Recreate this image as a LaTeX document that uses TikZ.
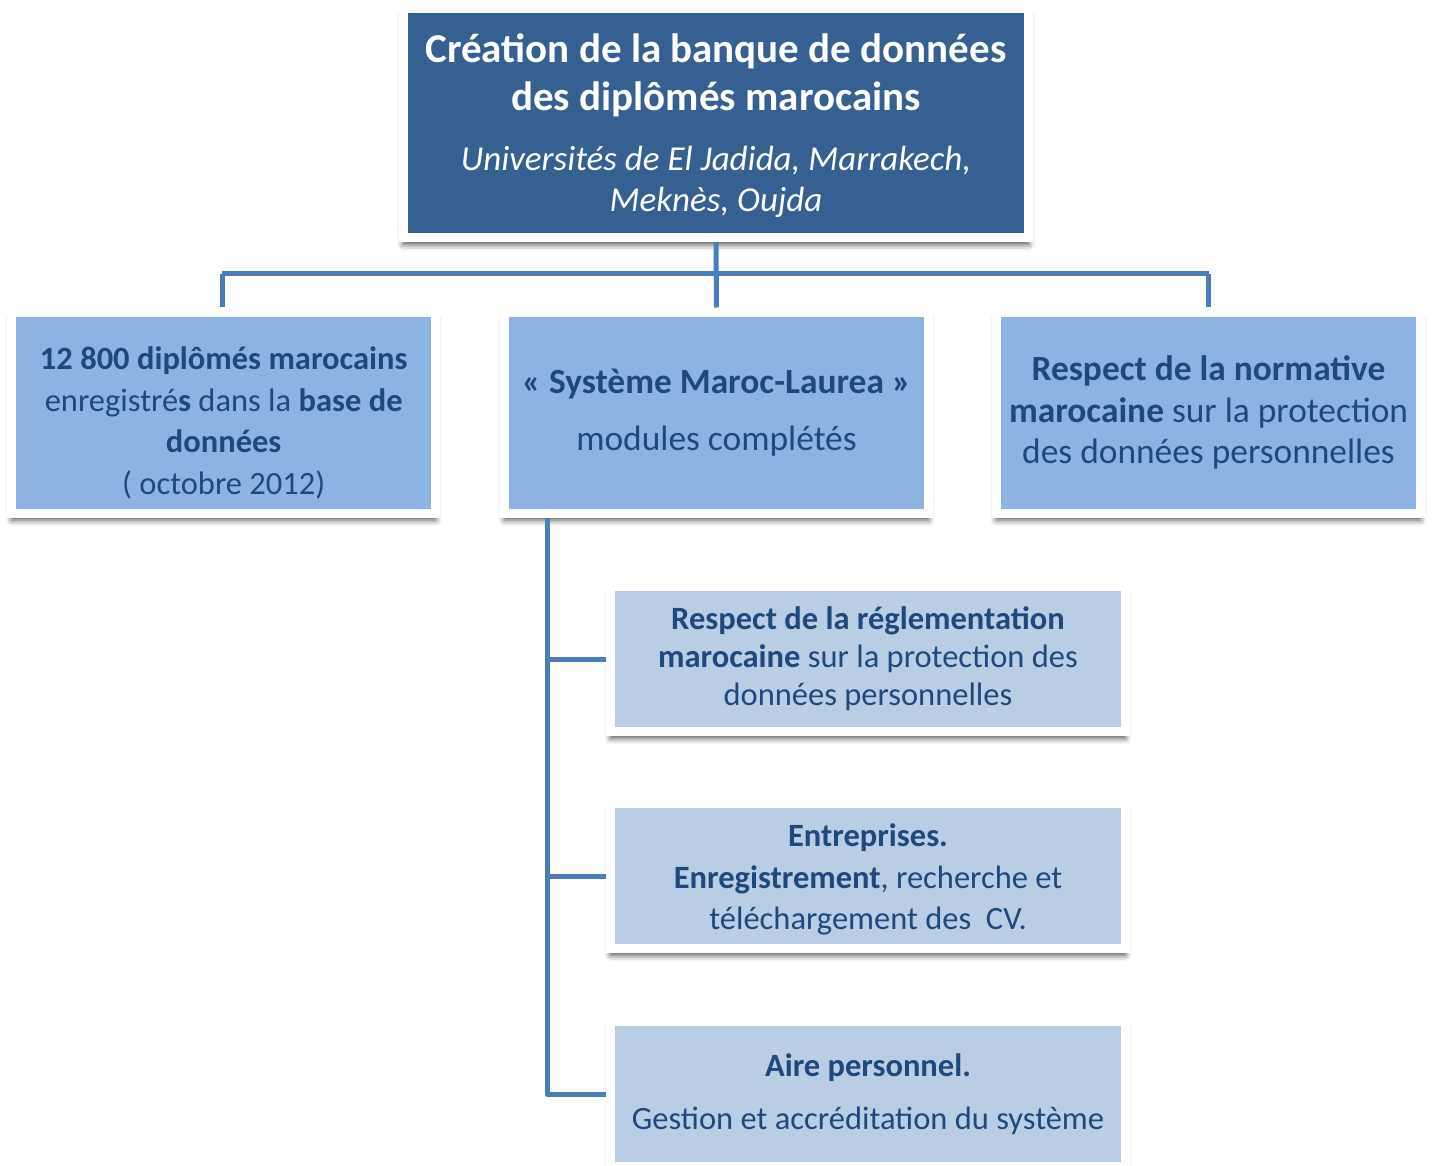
\documentclass[tikz,border=0pt]{standalone}
\usepackage{fontspec}
\setmainfont{Carlito}
\usetikzlibrary{shadows.blur}
\definecolor{darkfill}{RGB}{54,96,146}
\definecolor{midfill}{RGB}{141,179,226}
\definecolor{lightfill}{RGB}{185,205,229}
\definecolor{txtblue}{RGB}{31,73,125}
\definecolor{connblue}{RGB}{74,126,187}
\tikzset{
  boxbase/.style={draw=white, line width=9pt, inner sep=0pt, align=flush center,
    execute at begin node={\spaceskip=0pt\xspaceskip=0pt},
    blur shadow={shadow xshift=0pt, shadow yshift=-7pt, shadow blur radius=6pt, shadow opacity=70}},
  topbox/.style={boxbase, fill=darkfill, text=white, minimum width=625.5pt, minimum height=229pt, text width=615pt},
  levelbox/.style={boxbase, fill=midfill, text=txtblue, minimum width=424pt, minimum height=201pt, text width=415pt,
    font=\fontsize{32.5}{41.5}\selectfont},
  subbox/.style={boxbase, fill=lightfill, text=txtblue, minimum width=515pt, minimum height=144.5pt, text width=505pt,
    font=\fontsize{32.5}{38}\selectfont},
  conn/.style={draw=connblue, line width=5pt}
}
\begin{document}
\begin{tikzpicture}[x=1pt,y=-1pt]
\useasboundingbox (0,0) rectangle (1432,1166);
\begin{scope}
\clip (0,0) rectangle (1432,1166);
\node[topbox] (top) at (716,123) {%
  \par\vskip -14pt
  {\fontsize{41}{48}\selectfont\bfseries Création de la banque de données\\des diplômés marocains\par}
  \vspace{19pt}
  {\fontsize{35}{41}\selectfont\itshape Universités de El Jadida, Marrakech,\\Meknès, Oujda\par}};
\node[levelbox] (left) at (223.7,412.5) {%
  \par\vskip 2pt
  \textbf{12 800 diplômés marocains}\\enregistré\textbf{s} dans la \textbf{base de}\\\textbf{données}\\( octobre 2012)};
\node[levelbox, font=\fontsize{35.4}{44}\selectfont] (mid) at (716.5,412.5) {%
  \textbf{« Système Maroc-Laurea »}\\[13pt]modules complétés};
\node[levelbox, font=\fontsize{35.4}{41.5}\selectfont] (right) at (1208.5,412.5) {%
  \textbf{Respect de la normative}\\\textbf{marocaine} sur la protection\\des données personnelles};
\node[subbox] (sub1) at (868,659) {%
  \textbf{Respect de la réglementation}\\\textbf{marocaine} sur la protection des\\données personnelles};
\node[subbox, font=\fontsize{32.5}{41.5}\selectfont] (sub2) at (868,876) {%
  \par\vskip -11pt
  \textbf{Entreprises.}\\\textbf{Enregistrement}, recherche et\\téléchargement des\ \ CV.};
\node[subbox] (sub3) at (868,1094) {%
  \textbf{Aire personnel.}\\[15pt]Gestion et accréditation du système};
\coordinate (hub) at (716,274);
\coordinate (trunk) at (547,0);
\draw[conn] (top.south) -- (mid.north);
\draw[conn] ([xshift=-1.7pt]left.north |- hub) -- (right.north |- hub);
\draw[conn] ([xshift=-1.7pt]left.north |- hub) -- ([xshift=-1.7pt]left.north);
\draw[conn] (right.north |- hub) -- (right.north);
\draw[conn, line join=round] (mid.south -| trunk) |- (sub3.west);
\draw[conn] (sub1.west -| trunk) -- (sub1.west);
\draw[conn] (sub2.west -| trunk) -- (sub2.west);
\end{scope}
\end{tikzpicture}
\end{document}
